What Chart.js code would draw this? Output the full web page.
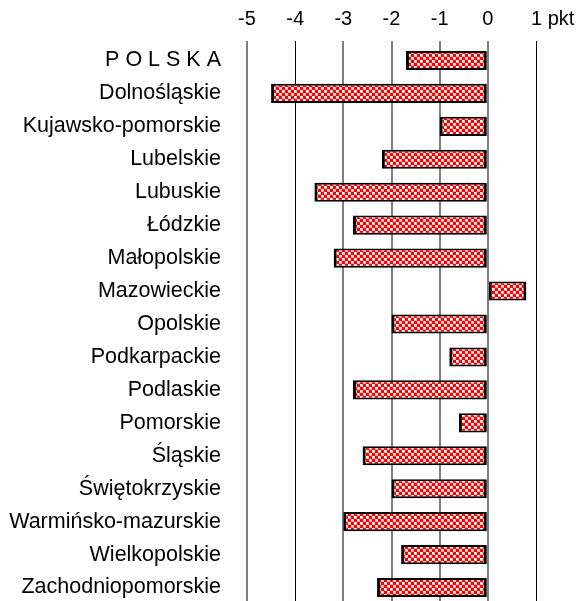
<!DOCTYPE html>
<html lang="pl">
<head>
<meta charset="utf-8">
<script src="https://cdn.jsdelivr.net/npm/chart.js@4/dist/chart.umd.min.js"></script>
<style>
  html, body { margin: 0; padding: 0; overflow: hidden; background: #fff; }
  #wrap { width: 581px; height: 604px; }
</style>
</head>
<body>
<div id="wrap"><canvas id="regions" width="581" height="604"></canvas></div>
<script>
const regions = [
  'P O L S K A',
  'Dolnośląskie',
  'Kujawsko-pomorskie',
  'Lubelskie',
  'Lubuskie',
  'Łódzkie',
  'Małopolskie',
  'Mazowieckie',
  'Opolskie',
  'Podkarpackie',
  'Podlaskie',
  'Pomorskie',
  'Śląskie',
  'Świętokrzyskie',
  'Warmińsko-mazurskie',
  'Wielkopolskie',
  'Zachodniopomorskie',
];

const changeValues = [
  -1.7, -4.5, -1.0, -2.2, -3.6, -2.8, -3.2, 0.8, -2.0,
  -0.8, -2.8, -0.6, -2.6, -2.0, -3.0, -1.8, -2.3,
];

const tickValues = [-5, -4, -3, -2, -1, 0, 1];
const unitLabel = 'pkt';

function makeCheckerPattern() {
  const tile = document.createElement('canvas');
  tile.width = 6;
  tile.height = 6;
  const tctx = tile.getContext('2d');
  tctx.fillStyle = '#ff0000';
  tctx.fillRect(0, 0, 6, 6);
  tctx.fillStyle = '#ffffff';
  tctx.fillRect(0, 0, 2, 2);
  tctx.fillRect(3, 3, 2, 2);
  tctx.fillStyle = '#ffb3b3';
  tctx.fillRect(2, 0, 1, 2);
  tctx.fillRect(0, 2, 3, 1);
  tctx.fillRect(5, 3, 1, 2);
  tctx.fillRect(3, 5, 3, 1);
  return tctx.createPattern(tile, 'repeat');
}

function formatTick(value) {
  if (value === tickValues[tickValues.length - 1]) {
    // keep the number centred on its gridline, unit trailing after it
    return '      ' + value + ' ' + unitLabel;
  }
  return String(value);
}

function isDarkLine(ctx) {
  return ctx.tick && (ctx.tick.value === -4 || ctx.tick.value === 1);
}

const canvasEl = document.getElementById('regions');

new Chart(canvasEl, {
  type: 'bar',
  data: {
    labels: regions,
    datasets: [
      {
        data: changeValues,
        backgroundColor: makeCheckerPattern(),
        borderColor: '#000000',
        borderWidth: { top: 2, bottom: 2, left: 3, right: 3 },
        borderSkipped: false,
        categoryPercentage: 1,
        barPercentage: 0.58,
      },
    ],
  },
  options: {
    indexAxis: 'y',
    responsive: false,
    animation: false,
    layout: {
      padding: { top: 0, right: 45, bottom: 0, left: 0 },
    },
    plugins: {
      legend: { display: false },
      tooltip: { enabled: false },
    },
    scales: {
      x: {
        position: 'top',
        min: tickValues[0],
        max: tickValues[tickValues.length - 1],
        afterBuildTicks: scale => {
          scale.ticks = tickValues.map(v => ({ value: v }));
        },
        afterFit: scale => {
          scale.height = 44;
          scale.paddingLeft = 0;
          scale.paddingRight = 0;
        },
        border: { display: false },
        grid: {
          color: ctx => (isDarkLine(ctx) ? '#000000' : '#7f7f7f'),
          lineWidth: ctx => (isDarkLine(ctx) ? 1 : 2),
          tickLength: 3,
        },
        ticks: {
          padding: 10,
          autoSkip: false,
          maxRotation: 0,
          color: '#000000',
          font: { family: "'Liberation Sans', Arial, sans-serif", size: 20 },
          callback: value => formatTick(value),
        },
      },
      y: {
        afterFit: scale => {
          scale.width = 247;
          scale.paddingTop = 0;
          scale.paddingBottom = 0;
        },
        border: { display: false },
        grid: { display: false, drawTicks: false },
        ticks: {
          padding: 26,
          autoSkip: false,
          color: '#000000',
          font: { family: "'Liberation Sans', Arial, sans-serif", size: 21.5 },
        },
      },
    },
  },
});
</script>
</body>
</html>
